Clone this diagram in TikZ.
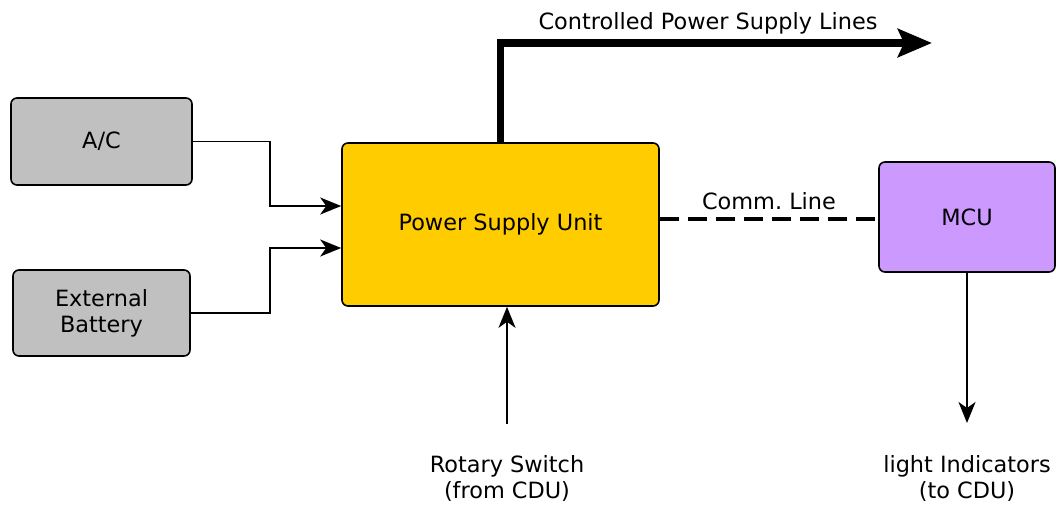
\documentclass[tikz,border=0pt]{standalone}
\usepackage{fontspec}
\setmainfont{DejaVu Sans}
\usetikzlibrary{arrows.meta}
\definecolor{boxgray}{HTML}{C0C0C0}
\definecolor{psuyellow}{HTML}{FFCC00}
\definecolor{mcupurple}{HTML}{CC99FF}
\tikzset{
  blockbox/.style={draw=black, line width=1.6pt, rounded corners=6pt, minimum width=#1, align=center, inner sep=0pt},
  lbl/.style={inner sep=0pt, align=center},
  thinarrow/.style={line width=1.7pt, -{Stealth[length=21pt, width=17pt, inset=6pt]}},
}
\begin{document}
\begin{tikzpicture}[x=1pt, y=-1pt, font=\fontsize{22.4}{26}\selectfont]
\useasboundingbox (0,0) rectangle (1056,504);
\node[blockbox=181pt, minimum height=87pt, fill=boxgray] (ac) at (101.5,141.5) {A/C};
\node[blockbox=177pt, minimum height=86pt, fill=boxgray] (bat) at (101.5,313) {External\\Battery};
\node[blockbox=317pt, minimum height=163pt, fill=psuyellow] (psu) at (500.5,224.5) {Power Supply Unit};
\node[blockbox=176pt, minimum height=110pt, fill=mcupurple] (mcu) at (967,217) {MCU};

\node[lbl] (cpl) at (708,23) {Controlled Power Supply Lines};
\node[lbl] (comm) at (769,201) {Comm.\ Line};
\node[lbl] (rot) at (507,478) {Rotary Switch\\(from CDU)};
\node[lbl] (light) at (967,478) {light Indicators\\(to CDU)};

\coordinate (cplend) at (932,43);
\coordinate (rotstart) at (507,424);
\coordinate (lightend) at (967,423);

\draw[thinarrow] (ac.east) -- (270,141.5) -- (270,206) -- (psu.west |- 0,206);
\draw[thinarrow] (bat.east) -- (270,313) -- (270,248) -- (psu.west |- 0,248);
\draw[line width=7.5pt, line join=miter, -{Stealth[length=34pt, width=28pt, inset=6pt]}]
  (psu.north) -- (psu.north |- cplend) -- (cplend);
\draw[line width=3.5pt, dash pattern=on 19pt off 9pt] (psu.east |- 0,219) -- (mcu.west |- 0,219);
\draw[thinarrow] (rotstart) -- (rotstart |- psu.south);
\draw[thinarrow] (mcu.south) -- (lightend);
\end{tikzpicture}
\end{document}
